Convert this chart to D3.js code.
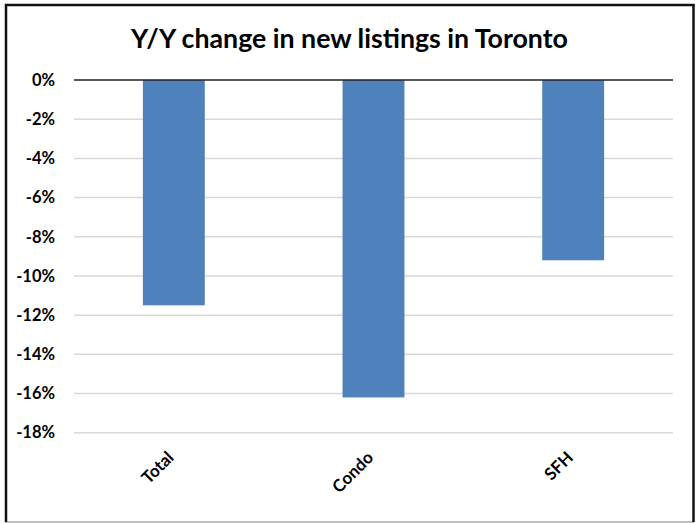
<!DOCTYPE html>
<html><head><meta charset="utf-8">
<script src="https://cdn.jsdelivr.net/npm/d3@7"></script>
<style>
html,body{margin:0;padding:0;background:#fff;}
svg text{font-family:Lato,"Open Sans",sans-serif;font-weight:bold;fill:#000;}
</style></head>
<body>
<svg id="chart" width="700" height="523"></svg>
<script>
const categories = ["Total", "Condo", "SFH"];
const values = [-11.5, -16.2, -9.2];
const yTicks = [0, -2, -4, -6, -8, -10, -12, -14, -16, -18];
const title = "Y/Y change in new listings in Toronto";

const svg = d3.select("#chart");
const W = 700, H = 523;
svg.append("rect").attr("width", W).attr("height", H).attr("fill", "#fff");

// frame
svg.append("line").attr("x1",5).attr("x2",694).attr("y1",522).attr("y2",522).attr("stroke","#aaa").attr("stroke-width",1.5);
svg.append("path").attr("d","M6,522 V5 H693.5 V522").attr("fill","none").attr("stroke","#111").attr("stroke-width",2.5);

const plot = {left: 74, right: 673, top: 80, bottom: 432.7};
const y = d3.scaleLinear().domain([0, -18]).range([plot.top, plot.bottom]);
const x = d3.scaleBand().domain(categories).range([plot.left, plot.right]).paddingInner(0).paddingOuter(0);
const barW = x.bandwidth() * 0.31;

// gridlines
svg.append("g").selectAll("line").data(yTicks.filter(t => t !== 0)).join("line")
  .attr("x1", plot.left).attr("x2", plot.right)
  .attr("y1", d => y(d)).attr("y2", d => y(d))
  .attr("stroke", "#d9d9d9").attr("stroke-width", 1.5);

// bars
svg.append("g").selectAll("rect").data(values).join("rect")
  .attr("x", (d, i) => x(categories[i]) + x.bandwidth()/2 - barW/2)
  .attr("width", barW)
  .attr("y", d => y(0))
  .attr("height", d => y(d) - y(0))
  .attr("fill", "#4f81bd");

// zero line
svg.append("line").attr("x1", plot.left).attr("x2", plot.right)
  .attr("y1", y(0)).attr("y2", y(0)).attr("stroke", "#222").attr("stroke-width", 1.5);

// y axis labels
const yAxis = d3.axisLeft(y).tickValues(yTicks).tickSize(0).tickPadding(0)
  .tickFormat(d => d + "%");
const ga = svg.append("g").attr("transform", `translate(55,0)`).call(yAxis);
ga.select(".domain").remove();
ga.selectAll("text").attr("font-size", 16.5).attr("font-family", "Lato").attr("font-weight","bold").attr("fill","#000");

// x labels
const xAxis = d3.axisBottom(x).tickSize(0).tickPadding(0);
const gx = svg.append("g").attr("transform", `translate(0,${plot.bottom})`).call(xAxis);
gx.select(".domain").remove();
gx.selectAll("text")
  .attr("font-size", 17).attr("font-family","Lato").attr("font-weight","bold").attr("fill","#000")
  .attr("text-anchor", "end").attr("dy", null).attr("y", 0)
  .attr("transform", "translate(1,26) rotate(-45)");

// title
const t = svg.append("text").attr("x", 349.5).attr("y", 48).attr("text-anchor", "middle")
  .attr("font-size", 24).text(title);
const len = t.node().getComputedTextLength();
t.attr("font-size", 24 * 437 / len);
</script>
</body></html>
